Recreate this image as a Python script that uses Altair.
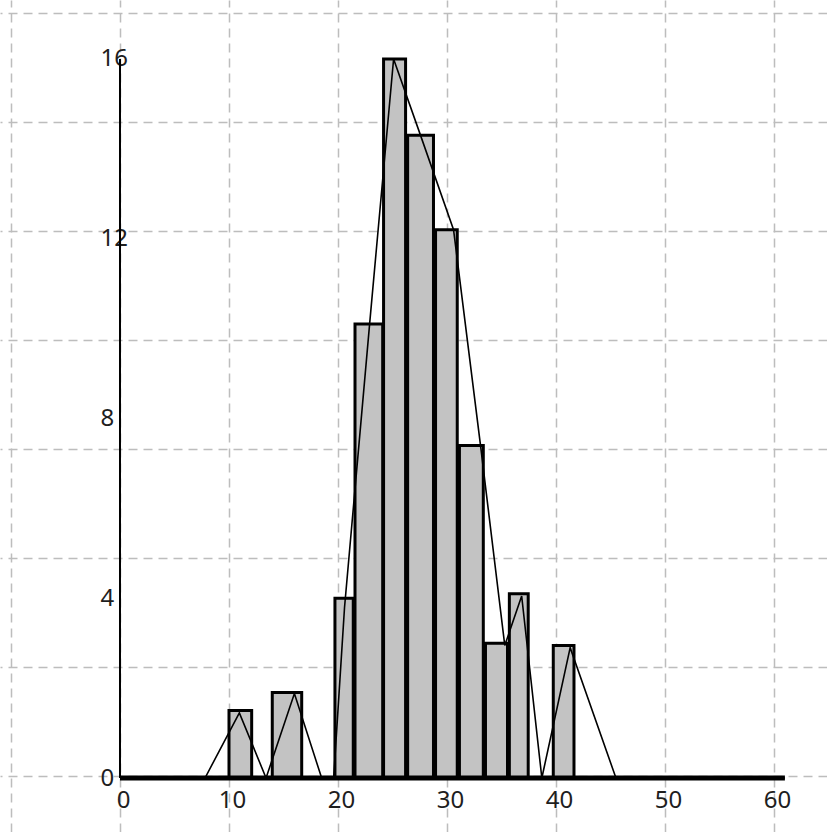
import altair as alt
import pandas as pd

# Histogram bars (class start, class end, frequency)
bar_start = [10.0, 13.97, 19.72, 21.56, 24.18, 26.39, 28.95, 31.14, 33.53, 35.72, 39.75]
bar_end = [12.08, 16.67, 21.4, 24.1, 26.2, 28.76, 30.94, 33.33, 35.55, 37.45, 41.65]
bar_count = [1.5, 1.9, 4.0, 10.1, 16.0, 14.3, 12.2, 7.4, 3.0, 4.1, 2.95]

# Frequency polygon vertices
poly_x = [0, 7.8, 10.95, 13.4, 16.0, 18.5, 19.6, 20.6, 22.9, 25.1, 27.5, 30.6,
          33.1, 35.3, 36.85, 38.7, 41.3, 45.5, 61]
poly_y = [0, 0, 1.45, 0, 1.88, 0, 0, 3.8, 10.1, 16.0, 14.35, 12.2,
          7.35, 2.95, 4.05, 0, 2.9, 0, 0]

# Tick labels
x_ticks = [0, 10, 20, 30, 40, 50, 60]
y_ticks = [0, 4, 8, 12, 16]
grid_x = [-10, 0, 10, 20, 30, 40, 50, 60]
grid_y = [0, 1, 2, 3, 4, 5, 6, 7]

# Axis lines extent
x_axis_end = 61
y_axis_top = 16

W, H = 827, 832
X_DOMAIN = [-11.009, 64.862]
Y_DOMAIN = [-1.2016, 17.312]
GRID_Y_DOMAIN = [-0.5138, 7.119]

FONT = "Noto Sans"

bars_df = pd.DataFrame({"start": bar_start, "end": bar_end, "count": bar_count})
poly_df = pd.DataFrame({"x": poly_x, "y": poly_y, "i": list(range(len(poly_x)))})
grid_df = pd.DataFrame({"gx": grid_x, "gy": grid_y})
xaxis_df = pd.DataFrame({"x0": [0], "x1": [x_axis_end], "y0": [0]})
yaxis_df = pd.DataFrame({"x0": [0], "y0": [0], "y1": [y_axis_top]})

xscale = alt.Scale(domain=X_DOMAIN, nice=False, zero=False)
yscale = alt.Scale(domain=Y_DOMAIN, nice=False, zero=False)

grid_style = dict(grid=True, labels=False, ticks=False, domain=False, title=None,
                  gridColor="#bdbdbd", gridDash=[9, 6], gridWidth=1.5)

grid = alt.Chart(grid_df).mark_point(opacity=0).encode(
    x=alt.X("gx:Q", scale=alt.Scale(domain=X_DOMAIN, nice=False, zero=False),
            axis=alt.Axis(orient="top", values=grid_x, **grid_style)),
    y=alt.Y("gy:Q", scale=alt.Scale(domain=GRID_Y_DOMAIN, nice=False, zero=False),
            axis=alt.Axis(orient="right", values=grid_y, **grid_style)),
)

bars = alt.Chart(bars_df).mark_rect(
    fill="#c3c3c3", stroke="#000000", strokeWidth=3
).encode(
    x=alt.X("start:Q", scale=xscale,
            axis=alt.Axis(orient="bottom", values=x_ticks, offset=-54, grid=False,
                          domain=False, ticks=False, tickSize=0, labelPadding=10,
                          labelFont=FONT, labelFontSize=24, labelColor="#1e1e1e",
                          labelAlign="center", labelBaseline="top", labelOffset=3,
                          labelFlush=False, labelOverlap=False, title=None)),
    x2="end:Q",
    y=alt.Y("count:Q", scale=yscale,
            axis=alt.Axis(orient="left", values=y_ticks, offset=-120, grid=False,
                          domain=False, ticks=False, tickSize=0, labelPadding=20,
                          labelFont=FONT, labelFontSize=24, labelColor="#1e1e1e",
                          labelAlign="left", labelBaseline="middle",
                          labelFlush=False, labelOverlap=False, title=None)),
    y2=alt.datum(0),
)

poly = alt.Chart(poly_df).mark_line(color="#000000", strokeWidth=1.6).encode(
    x=alt.X("x:Q", scale=xscale),
    y=alt.Y("y:Q", scale=yscale),
    order="i:Q",
)

xaxis_line = alt.Chart(xaxis_df).mark_rule(color="#000000", strokeWidth=5).encode(
    x=alt.X("x0:Q", scale=xscale), x2="x1:Q", y=alt.Y("y0:Q", scale=yscale)
)
yaxis_line = alt.Chart(yaxis_df).mark_rule(color="#000000", strokeWidth=2).encode(
    x=alt.X("x0:Q", scale=xscale), y=alt.Y("y0:Q", scale=yscale), y2="y1:Q"
)

main = alt.layer(bars, poly, xaxis_line, yaxis_line)

chart = alt.layer(grid, main).resolve_scale(x="independent", y="independent").properties(
    width=W, height=H,
    autosize=alt.AutoSizeParams(type="none"),
    padding=0,
    background="#ffffff",
).configure_view(stroke=None)

chart.save("out.html", embed_options={"renderer": "svg", "actions": False})
